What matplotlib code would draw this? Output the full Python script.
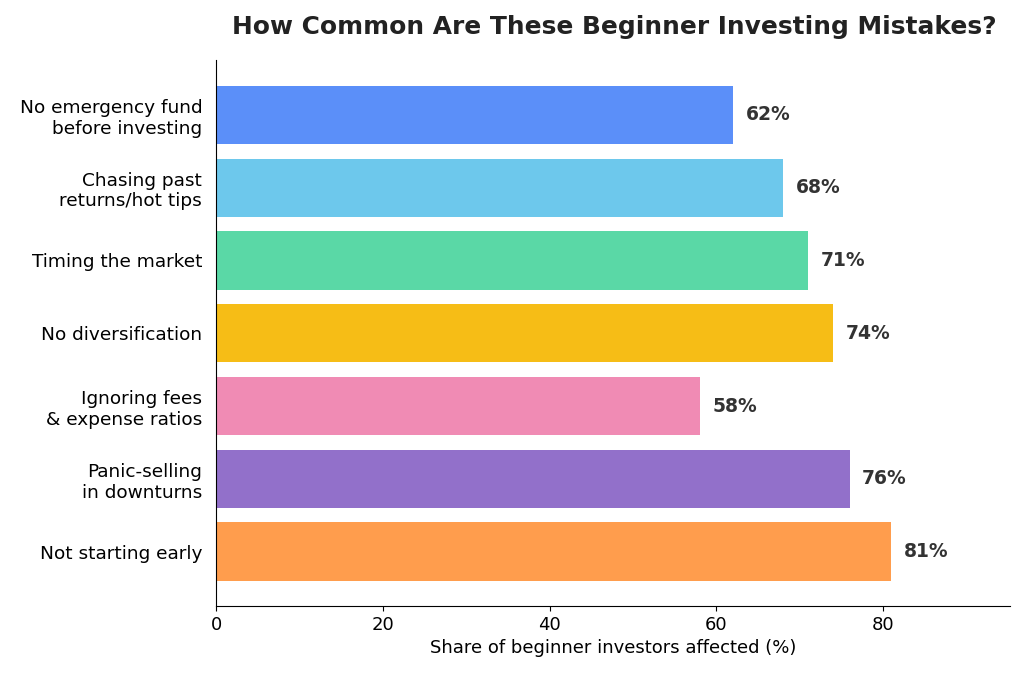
import matplotlib
matplotlib.use("Agg")
import matplotlib.pyplot as plt

categories = ["No emergency fund\nbefore investing", "Chasing past\nreturns/hot tips", "Timing the market",
              "No diversification", "Ignoring fees\n& expense ratios", "Panic-selling\nin downturns", "Not starting early"]
values = [62, 68, 71, 74, 58, 76, 81]
colors = ["#5B8FF9", "#6DC8EC", "#5AD8A6", "#F6BD16", "#F08BB4", "#9270CA", "#FF9D4D"]

fig = plt.figure(figsize=(10.24, 6.78), dpi=100)
ax = fig.add_axes([0.211, 0.106, 0.775, 0.805])
y = list(range(len(categories)))
ax.barh(y, values, color=colors, height=0.8)
for yi, v in zip(y, values):
    ax.text(v + 1.5, yi, f"{v}%", va="center", ha="left", fontsize=13.5, fontweight="bold", color="#333333")
ax.set_yticks(y)
ax.set_yticklabels(categories, fontsize=13.3)
ax.tick_params(axis="y", length=0, pad=10)
ax.set_ylim(6.75, -0.75)
ax.set_xlim(0, 95.2)
ax.set_xticks([0, 20, 40, 60, 80])
ax.tick_params(axis="x", labelsize=13)
ax.set_xlabel("Share of beginner investors affected (%)", fontsize=13)
ax.spines["top"].set_visible(False)
ax.spines["right"].set_visible(False)
fig.suptitle("How Common Are These Beginner Investing Mistakes?", fontsize=17.9, fontweight="bold",
             x=0.6, y=0.978, color="#222222")
fig.savefig("out.png", dpi=100)
